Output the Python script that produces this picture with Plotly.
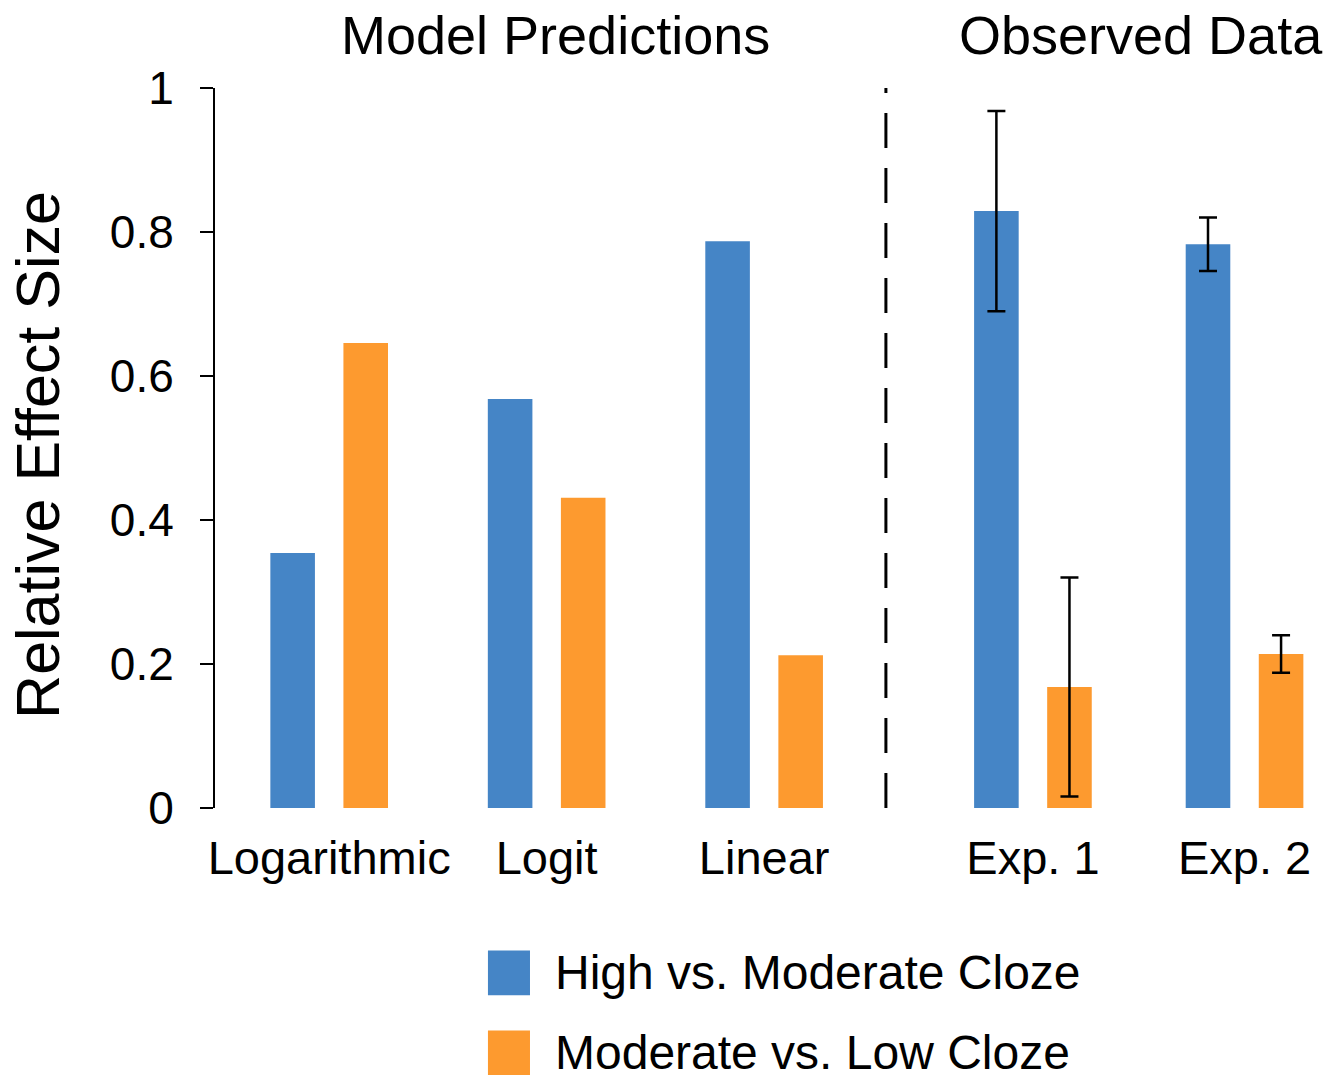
import plotly.graph_objects as go

# ---- data ----
categories = ["Logarithmic", "Logit", "Linear", "Exp. 1", "Exp. 2"]
group_pos = [0.0, 1.0, 2.0, 3.236, 4.209]
n_model = 3  # first three categories are model predictions (no error bars)
series_names = ["High vs. Moderate Cloze", "Moderate vs. Low Cloze"]
high_vs_moderate = [0.354, 0.568, 0.787, 0.829, 0.783]
moderate_vs_low = [0.646, 0.431, 0.212, 0.168, 0.214]
high_err = [0.139, 0.037]   # observed only (Exp. 1, Exp. 2)
low_err = [0.152, 0.026]
y_ticks = [0, 0.2, 0.4, 0.6, 0.8, 1]
y_ticktext = ["0", "0.2", "0.4", "0.6", "0.8", "1"]
section_titles = ["Model Predictions", "Observed Data"]
divider_pos = 2.56

BLUE = "#4585C6"
ORANGE = "#FD9A2F"
FONT = "Liberation Sans, Arial, sans-serif"

fig = go.Figure()
bar_w = 0.205
half_sep = 0.168
for name, vals, errs, color, sign in [
    (series_names[0], high_vs_moderate, high_err, BLUE, -1),
    (series_names[1], moderate_vs_low, low_err, ORANGE, 1),
]:
    # model predictions
    fig.add_trace(go.Bar(
        x=group_pos[:n_model], y=vals[:n_model], name=name,
        marker=dict(color=color, line=dict(width=0)),
        width=bar_w, offset=sign * half_sep - bar_w / 2,
        showlegend=False,
    ))
    # observed data with error bars
    fig.add_trace(go.Bar(
        x=group_pos[n_model:], y=vals[n_model:], name=name,
        marker=dict(color=color, line=dict(width=0)),
        width=bar_w, offset=sign * half_sep - bar_w / 2,
        error_y=dict(type="data", array=errs, visible=True,
                     color="black", thickness=2.5, width=9),
        showlegend=False,
    ))

# page body has an 8px margin; figure sized so it ends at the window edge
fig.update_layout(
    width=1334, height=1069, autosize=False,
    margin=dict(l=207, r=12, t=80, b=269),
    plot_bgcolor="white", paper_bgcolor="white",
    barmode="overlay",
    font=dict(family=FONT, color="black", size=47),
    xaxis=dict(range=[-0.525, 4.602], tickvals=group_pos, ticktext=categories,
               showline=False, showgrid=False, zeroline=False, ticks="",
               ticklabelstandoff=18, tickfont=dict(size=47)),
    yaxis=dict(range=[0, 1], tickvals=y_ticks, ticktext=y_ticktext,
               showline=True, linecolor="black", linewidth=2,
               ticks="outside", ticklen=13, tickwidth=2, tickcolor="black",
               showgrid=False, zeroline=False, ticklabelstandoff=17,
               tickfont=dict(size=46)),
)

# divider
fig.add_shape(type="line", xref="x", yref="paper", x0=divider_pos, x1=divider_pos,
              y0=0, y1=1, line=dict(color="black", width=3, dash="35px,20px"))

# axis title
fig.add_annotation(text="Relative Effect Size", xref="paper", yref="paper",
                   x=-0.159, y=0.49, textangle=-90, showarrow=False,
                   font=dict(size=61), xanchor="center", yanchor="middle")

# section titles
for t, xp in zip(section_titles, [0.305, 0.8305]):
    fig.add_annotation(text=t, xref="paper", yref="paper", x=xp, y=1.0736,
                       showarrow=False, font=dict(size=54),
                       xanchor="center", yanchor="middle")

# legend (manual)
for i, (name, color) in enumerate(zip(series_names, [BLUE, ORANGE])):
    yc = -0.229 - i * 0.111
    fig.add_shape(type="rect", xref="paper", yref="paper",
                  x0=0.2448, x1=0.2825, y0=yc - 0.031, y1=yc + 0.031,
                  fillcolor=color, line=dict(width=0))
    fig.add_annotation(text=name, xref="paper", yref="paper", x=0.303, y=yc,
                       showarrow=False, font=dict(size=48),
                       xanchor="left", yanchor="middle")

fig.write_html("out.html")
